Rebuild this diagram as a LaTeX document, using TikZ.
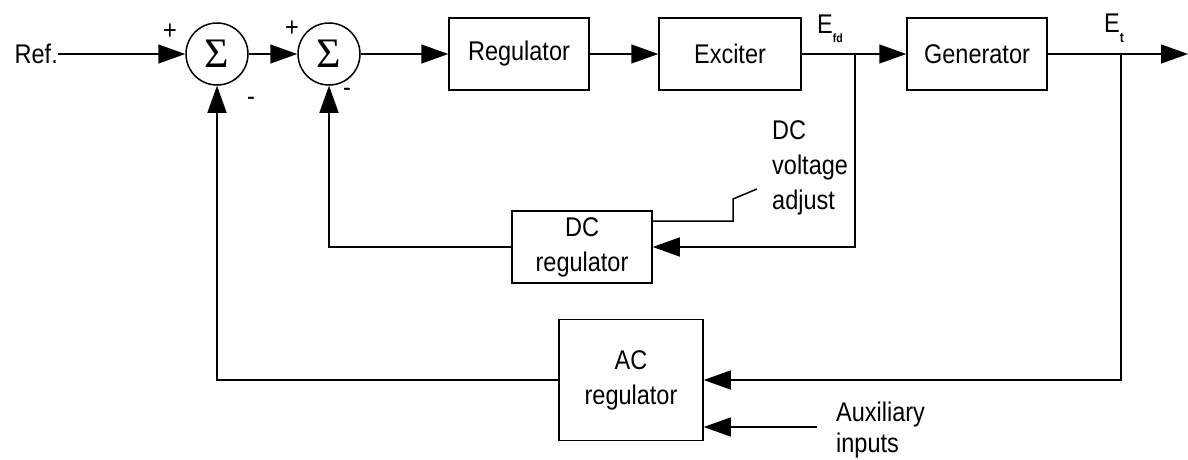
\documentclass[tikz,border=0pt]{standalone}
\usepackage{fontspec}
\setmainfont{Liberation Sans}[FakeStretch=0.87]
\newfontfamily\sigmafont{Liberation Serif}
\usetikzlibrary{arrows.meta}
\begin{document}
\begin{tikzpicture}[x=1pt,y=-1pt,font=\fontsize{27}{35}\selectfont]
\tikzstyle{arrow}=[draw,line width=1.5pt,-{Triangle[length=27pt,width=19pt]}]
\tikzstyle{line}=[draw,line width=1.5pt]
\tikzstyle{block}=[draw,line width=1.5pt,rectangle,minimum width=140pt,minimum height=72pt,align=center,inner sep=0pt]
\tikzstyle{sumnode}=[draw,line width=1.5pt,circle,minimum size=62pt,inner sep=0pt,font=\sigmafont\fontsize{42}{42}\selectfont]
\tikzstyle{txt}=[inner sep=0pt]
\useasboundingbox(0,0)rectangle(1188,459);
\node[txt,anchor=east](ref)at(58,54){Ref.};
\node[sumnode](sum1)at(217,54){Σ};
\node[sumnode](sum2)at(329,54){Σ};
\node[block](reg)at(519,54){Regulator};
\node[block,minimum width=142pt](exc)at(730,54){Exciter};
\node[block](gen)at(977,54){Generator};
\node[block](dcreg)at(582,247){DC\\regulator};
\node[block,minimum width=144pt,minimum height=121pt](acreg)at(631,380){AC\\regulator};
\coordinate(fdj)at(855,54);
\coordinate(etj)at(1121,54);
\coordinate(out)at(1188,54);
\coordinate(adj)at(733,221);
\coordinate(knob)at(757,189);
\coordinate(auxin)at(817,427);
\node[txt]at(170,32){+};
\node[txt]at(251,101){-};
\node[txt]at(292,29){+};
\node[txt]at(347,92){-};
\node[txt,anchor=base west](efd)at(817,33){E\raisebox{-9pt}{\fontsize{12}{12}\selectfont\bfseries fd}};
\node[txt,anchor=base west](et)at(1104,32){E\raisebox{-10pt}{\fontsize{14}{14}\selectfont\bfseries t}};
\node[txt,anchor=west,align=left](dcadj)at(772,168){DC\\voltage\\adjust};
\node[txt,anchor=west,align=left,font=\fontsize{27}{31}\selectfont](aux)at(836,430){Auxiliary\\inputs};
\path[arrow](ref)--(sum1);
\path[arrow](sum1)--(sum2);
\path[arrow](sum2)--(reg);
\path[arrow](reg)--(exc);
\path[arrow](exc)--(gen);
\path[arrow](gen)--(out);
\path[arrow](fdj)|-(dcreg);
\path[arrow](dcreg)-|(sum2);
\path[arrow](etj)|-(acreg);
\path[arrow](acreg)-|(sum1);
\path[arrow](auxin)--(auxin-|acreg.east);
\path[line](dcreg.east|-adj)--(adj)--(adj|-0,199)--(knob);
\end{tikzpicture}
\end{document}
